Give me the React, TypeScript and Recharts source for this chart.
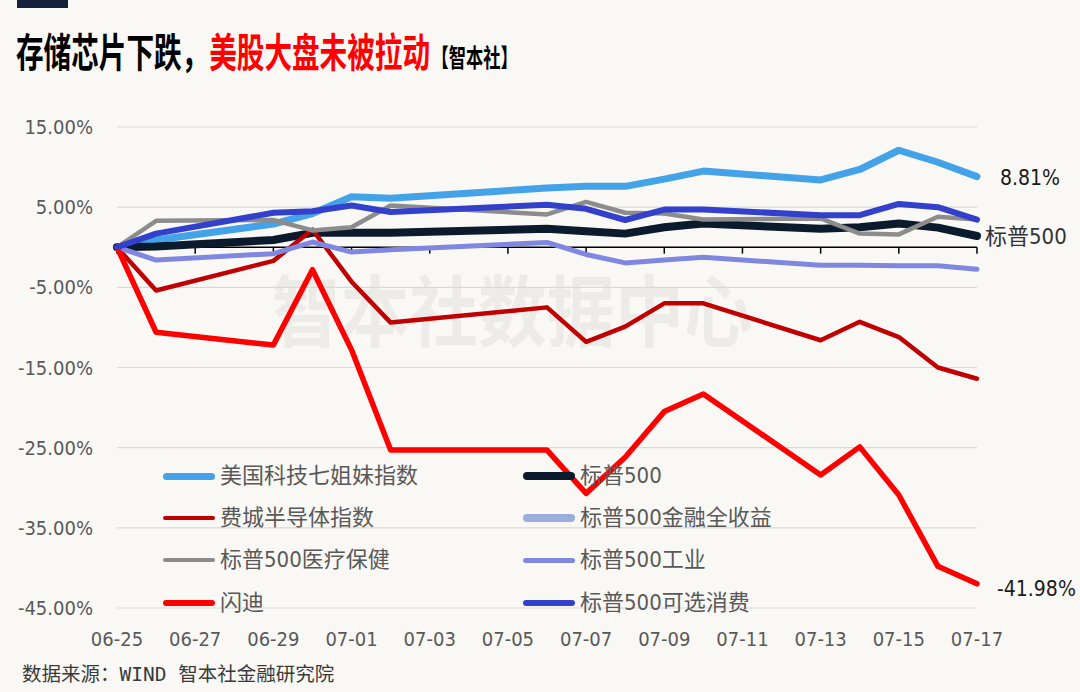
import React from "react";
import { CartesianGrid, Line, LineChart, ReferenceLine, XAxis, YAxis } from "recharts";

// trading days shown on the chart (market closed on 07-03 and weekends)
const dates = [
  "06-25", "06-26", "06-29", "06-30", "07-01", "07-02", "07-06", "07-07",
  "07-08", "07-09", "07-10", "07-13", "07-14", "07-15", "07-16", "07-17",
];

const xTickLabels = [
  "06-25", "06-27", "06-29", "07-01", "07-03", "07-05",
  "07-07", "07-09", "07-11", "07-13", "07-15", "07-17",
];

const yTicks = [15, 5, -5, -15, -25, -35, -45];

// cumulative change, %
const techSeven = [0, 0.9, 2.9, 4.2, 6.3, 6.1, 7.4, 7.6, 7.6, 8.5, 9.5, 8.4, 9.7, 12.1, 10.6, 8.81];
const sp500 = [0, 0.1, 0.9, 1.8, 1.8, 1.8, 2.3, 2.0, 1.7, 2.5, 2.95, 2.3, 2.5, 2.95, 2.45, 1.4];
const phlxSemi = [0, -5.4, -1.7, 2.2, -4.3, -9.4, -7.5, -11.8, -9.9, -7.0, -7.0, -11.6, -9.3, -11.2, -15.0, -16.4];
const spHealth = [0, 3.3, 3.4, 2.1, 2.5, 5.2, 4.1, 5.65, 4.3, 4.2, 3.45, 3.6, 1.7, 1.6, 3.8, 3.45];
const spIndustrial = [0, -1.6, -0.8, 0.65, -0.6, -0.3, 0.6, -0.9, -1.95, -1.6, -1.25, -2.25, -2.25, -2.3, -2.3, -2.75];
const sandisk = [0, -10.6, -12.2, -2.8, -12.8, -25.3, -25.3, -30.7, -26.2, -20.5, -18.3, -28.4, -24.9, -30.9, -39.8, -41.98];
const spConsumer = [0, 1.7, 4.3, 4.5, 5.2, 4.4, 5.3, 4.8, 3.4, 4.7, 4.7, 4.0, 4.0, 5.4, 5.0, 3.45];

type Series = {
  key: string;
  name: string;
  color: string;
  width: number;
  values: number[] | null;
  endLabel?: "value" | "name";
};

// legend order = drawing order (later on top)
const series: Series[] = [
  { key: "tech", name: "美国科技七姐妹指数", color: "#44A3E8", width: 7, values: techSeven, endLabel: "value" },
  { key: "sp500", name: "标普500", color: "#0B1A2C", width: 8, values: sp500, endLabel: "name" },
  { key: "semi", name: "费城半导体指数", color: "#C00000", width: 4.5, values: phlxSemi },
  { key: "fin", name: "标普500金融全收益", color: "#9CACDC", width: 8, values: null },
  { key: "health", name: "标普500医疗保健", color: "#8C8C8C", width: 4.5, values: spHealth },
  { key: "indus", name: "标普500工业", color: "#7F87E0", width: 5, values: spIndustrial },
  { key: "sandisk", name: "闪迪", color: "#FF0000", width: 5.5, values: sandisk, endLabel: "value" },
  { key: "consumer", name: "标普500可选消费", color: "#3340CC", width: 6, values: spConsumer },
];

const BG = "#F9F8F5";
const NARROW = '"Liberation Sans Narrow", "DejaVu Sans Condensed", "Noto Sans CJK SC", sans-serif';
const CJK = '"Noto Sans CJK SC", "Noto Sans", sans-serif';

function dayOffset(md: string) {
  const [m, d] = md.split("-").map(Number);
  return (Date.UTC(2025, m - 1, d) - Date.UTC(2025, 5, 25)) / 86400000;
}

const xTicks = xTickLabels.map(dayOffset);
const lastIndex = dates.length - 1;

const data = dates.map((date, i) => {
  const row: Record<string, number | string> = { date, day: dayOffset(date) };
  series.forEach((s) => {
    if (s.values) row[s.key] = s.values[i];
  });
  return row;
});

function makeEndLabel(s: Series) {
  return (props: any) => {
    const { x, y, index, value } = props;
    if (index !== lastIndex || !s.endLabel) return null;
    if (s.endLabel === "name") {
      return (
        <text x={x + 8} y={y} dy="0.36em" fontSize={22} fill="#333" fontFamily={NARROW}>
          {s.name}
        </text>
      );
    }
    const dy = value < 0 ? 5 : 1;
    const dx = value < 0 ? 20 : 23;
    return (
      <text x={x + dx} y={y + dy} dy="0.36em" fontSize={21} fill="#1a1a1a" fontFamily={NARROW}>
        {Number(value).toFixed(2)}%
      </text>
    );
  };
}

const legendCols = [163, 523];
const legendRows = [476, 518, 560, 603];

export default function App() {
  return (
    <div
      style={{
        position: "absolute",
        left: 0,
        top: 0,
        width: 1080,
        height: 692,
        background: BG,
        overflow: "hidden",
      }}
    >
      <div style={{ position: "absolute", left: 17, top: 0, width: 51, height: 8, background: "#14213A" }} />

      <div
        style={{
          position: "absolute",
          left: 16,
          top: 28,
          whiteSpace: "nowrap",
          fontFamily: CJK,
          fontWeight: 700,
          fontSize: 40,
          lineHeight: "44px",
          transform: "scaleX(0.69)",
          transformOrigin: "left center",
        }}
      >
        <span style={{ color: "#000" }}>存储芯片下跌，</span>
        <span style={{ color: "#FF0000" }}>美股大盘未被拉动</span>
        <span style={{ color: "#000", fontSize: 25, marginLeft: 2 }}>【智本社】</span>
      </div>

      <div
        style={{
          position: "absolute",
          left: 272,
          top: 262,
          whiteSpace: "nowrap",
          fontFamily: CJK,
          fontWeight: 700,
          fontSize: 78,
          lineHeight: "90px",
          color: "rgba(0,0,0,0.05)",
          transform: "scaleX(0.88)",
          transformOrigin: "left center",
        }}
      >
        智本社数据中心
      </div>

      <div style={{ position: "absolute", left: 0, top: 0 }}>
        <LineChart width={1080} height={692} data={data} margin={{ top: 127, right: 103, bottom: 34, left: 0 }}>
          <CartesianGrid vertical={false} stroke="#D9D9D9" strokeWidth={1.2} />
          <XAxis
            dataKey="day"
            type="number"
            domain={[0, 22]}
            ticks={xTicks}
            tickFormatter={(v: number) => xTickLabels[xTicks.indexOf(v)] ?? ""}
            axisLine={false}
            tickLine={false}
            tickSize={0}
            tickMargin={24}
            height={50}
            interval={0}
            tick={{ fontSize: 20, fill: "#595959", fontFamily: NARROW }}
          />
          <YAxis
            type="number"
            domain={[-45, 15]}
            ticks={yTicks}
            tickFormatter={(v: number) => `${v.toFixed(2)}%`}
            axisLine={false}
            tickLine={false}
            tickSize={0}
            tickMargin={24}
            width={117}
            interval={0}
            tick={{ fontSize: 20, fill: "#595959", fontFamily: NARROW }}
          />
          <ReferenceLine y={0} stroke="#000" strokeWidth={1.5} />
          {xTicks.map((t) => (
            <ReferenceLine
              key={`tick-${t}`}
              segment={[
                { x: t, y: 0 },
                { x: t, y: -0.8 },
              ]}
              stroke="#000"
              strokeWidth={1.5}
            />
          ))}
          {series
            .filter((s) => s.values)
            .map((s) => (
              <Line
                key={s.key}
                dataKey={s.key}
                name={s.name}
                type="linear"
                stroke={s.color}
                strokeWidth={s.width}
                strokeLinejoin="round"
                strokeLinecap="round"
                dot={false}
                activeDot={false}
                isAnimationActive={false}
                label={s.endLabel ? makeEndLabel(s) : undefined}
              />
            ))}
        </LineChart>
      </div>

      {series.map((s, i) => {
        const left = legendCols[i % 2];
        const cy = legendRows[Math.floor(i / 2)];
        return (
          <div key={`lg-${s.key}`} style={{ position: "absolute", left, top: cy - 16, height: 32, display: "flex", alignItems: "center" }}>
            <div style={{ width: 52, height: Math.min(s.width, 8), background: s.color, borderRadius: 4 }} />
            <span
              style={{
                marginLeft: 5,
                fontFamily: NARROW,
                fontSize: 22,
                color: "#595959",
                whiteSpace: "nowrap",
                lineHeight: "32px",
              }}
            >
              {s.name}
            </span>
          </div>
        );
      })}

      <div
        style={{
          position: "absolute",
          left: 22,
          top: 663,
          whiteSpace: "nowrap",
          fontFamily: '"DejaVu Sans Mono", "Noto Sans CJK SC", monospace',
          fontSize: 19.5,
          lineHeight: "24px",
          color: "#3a3a3a",
        }}
      >
        数据来源：WIND 智本社金融研究院
      </div>
    </div>
  );
}
